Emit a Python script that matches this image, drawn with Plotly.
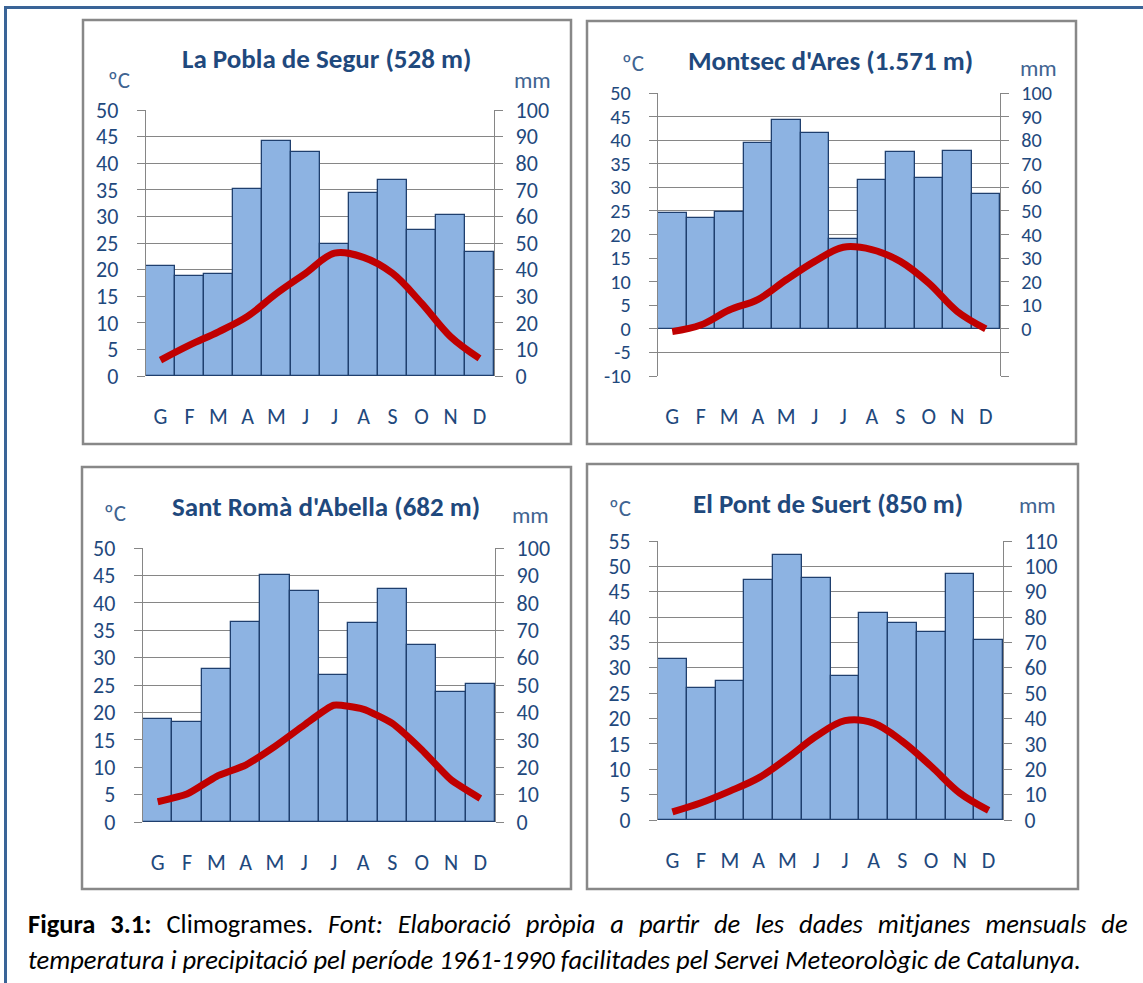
import plotly.graph_objects as go

# ---------------- data ----------------
months = ["G", "F", "M", "A", "M", "J", "J", "A", "S", "O", "N", "D"]

titles = [
    "La Pobla de Segur (528 m)",
    "Montsec d'Ares (1.571 m)",
    "Sant Romà d'Abella (682 m)",
    "El Pont de Suert (850 m)",
]

precip_pobla = [41.2, 37.7, 38.2, 70.2, 88.5, 84.1, 49.6, 68.7, 73.6, 54.8, 60.4, 46.5]
temp_pobla = [3.0, 5.8, 8.3, 11.2, 15.5, 19.3, 23.1, 22.3, 19.3, 13.7, 7.4, 3.3]

precip_montsec = [49.1, 47.2, 49.5, 78.8, 88.5, 83.0, 38.0, 63.1, 75.0, 63.9, 75.2, 57.1]
temp_montsec = [-0.6, 0.8, 4.0, 6.2, 10.4, 14.3, 17.3, 16.8, 14.3, 9.7, 3.7, 0.0]

precip_santroma = [37.5, 36.4, 55.8, 73.0, 90.3, 84.3, 53.8, 72.6, 85.0, 64.6, 47.3, 50.5]
temp_santroma = [3.7, 5.1, 8.3, 10.4, 13.8, 17.7, 21.3, 20.6, 18.0, 13.2, 7.7, 4.3]

precip_pont = [63.5, 51.9, 54.8, 94.6, 104.3, 95.3, 56.6, 81.6, 77.7, 74.1, 96.8, 71.0]
temp_pont = [1.6, 3.4, 5.7, 8.3, 12.2, 16.5, 19.6, 19.1, 15.5, 10.6, 5.3, 1.9]

temp_ranges = [(0, 50), (-10, 50), (0, 50), (0, 55)]

caption_1_words = ["<b>Figura</b>", "<b>3.1:</b>", "Climogrames.", "<i>Font:</i>", "<i>Elaboració</i>",
                   "<i>pròpia</i>", "<i>a</i>", "<i>partir</i>", "<i>de</i>", "<i>les</i>", "<i>dades</i>",
                   "<i>mitjanes</i>", "<i>mensuals</i>", "<i>de</i>"]
caption_2 = ("<i>temperatura i precipitació pel període 1961-1990 facilitades pel Servei "
             "Meteorològic de Catalunya.</i>")

# ---------------- styling / layout ----------------
W, H = 1143, 983
FONT = "Calibri, Carlito, Lato, sans-serif"
BLUE_TXT = "#1F497D"
BAR_FILL = "#8DB3E2"
BAR_LINE = "#1F3F6E"
RED = "#C00000"
GRID = "#868686"
FRAME = "#888888"

def px(x):
    return x / W

def py(y):
    return 1 - y / H

panels = [
    dict(plot=(146, 494, 110, 376), frame=(83, 20, 571, 444), title=(326, 58), degc=(119, 80), mm=(532, 80)),
    dict(plot=(658, 1000, 93, 376), frame=(587, 21, 1076, 444), title=(830, 61), degc=(633, 63), mm=(1038, 68)),
    dict(plot=(143, 495, 548, 822), frame=(82, 467, 571, 889), title=(326, 506), degc=(115, 513), mm=(530, 515)),
    dict(plot=(658, 1003, 541, 820), frame=(587, 464, 1078, 889), title=(828, 503), degc=(620, 508), mm=(1037, 505)),
]

data_sets = [
    (precip_pobla, temp_pobla),
    (precip_montsec, temp_montsec),
    (precip_santroma, temp_santroma),
    (precip_pont, temp_pont),
]

fig = go.Figure()
layout = dict(
    template="none",
    width=W, height=H, autosize=False,
    margin=dict(l=0, r=0, t=0, b=0, pad=0, autoexpand=False),
    paper_bgcolor="white", plot_bgcolor="rgba(0,0,0,0)",
    showlegend=False, bargap=0, hovermode=False,
    font=dict(family=FONT, color=BLUE_TXT),
)
shapes = []
annotations = []
xs = list(range(len(months)))

for i, (p, (prec, temp), (tmin, tmax)) in enumerate(zip(panels, data_sets, temp_ranges)):
    xn = i + 1
    yp = 2 * i + 1   # precipitation axis (base, right)
    yt = 2 * i + 2   # temperature axis (overlay, left)
    xname = "x" if xn == 1 else f"x{xn}"
    ypname = "y" if yp == 1 else f"y{yp}"
    ytname = f"y{yt}"
    x0, x1, y0, y1 = p["plot"]

    fig.add_trace(go.Bar(
        x=xs, y=prec, xaxis=xname, yaxis=ypname,
        marker=dict(color=BAR_FILL, line=dict(color=BAR_LINE, width=1.3)),
        width=1.0, hoverinfo="skip",
    ))
    fig.add_trace(go.Scatter(
        x=xs, y=temp, xaxis=xname, yaxis=ytname, mode="lines",
        line=dict(color=RED, width=7, shape="spline", smoothing=1.0 if i != 2 else 0.5),
        hoverinfo="skip",
    ))

    pmin, pmax = 2 * tmin, 2 * tmax
    pticks = list(range(pmin, pmax + 1, 10))
    ptext = [str(v) if v >= 0 else "" for v in pticks]
    tticks = list(range(tmin, tmax + 1, 5))
    ttext = [str(v) for v in tticks]

    step_px = (y1 - y0) / (len(tticks) - 1)
    tsize = min(22, round(step_px / 1.17, 1))

    xkey = "xaxis" if xn == 1 else f"xaxis{xn}"
    layout[xkey] = dict(
        domain=[px(x0), px(x1)], anchor=ypname, range=[-0.5, len(months) - 0.5],
        tickmode="array", tickvals=xs, ticktext=months, automargin=False,
        showgrid=False, zeroline=False, showline=False, ticks="",
        tickfont=dict(size=22, color=BLUE_TXT, family=FONT),
        ticklabelstandoff=25,
    )
    ypkey = "yaxis" if yp == 1 else f"yaxis{yp}"
    layout[ypkey] = dict(
        domain=[py(y1), py(y0)], anchor=xname, side="right", range=[pmin, pmax],
        tickmode="array", tickvals=pticks, ticktext=ptext, automargin=False,
        showgrid=True, gridcolor=GRID, gridwidth=1.4, zeroline=False,
        showline=True, linecolor=GRID, linewidth=1.4,
        ticks="outside", ticklen=8, tickcolor=GRID, tickwidth=1.4,
        tickfont=dict(size=tsize, color=BLUE_TXT, family=FONT),
        ticklabelstandoff=8,
    )
    layout[f"yaxis{yt}"] = dict(
        domain=[py(y1), py(y0)], anchor=xname, overlaying=ypname, side="left",
        range=[tmin, tmax], tickmode="array", tickvals=tticks, ticktext=ttext, automargin=False,
        showgrid=False, zeroline=False,
        showline=True, linecolor=GRID, linewidth=1.4,
        ticks="outside", ticklen=8, tickcolor=GRID, tickwidth=1.4,
        tickfont=dict(size=tsize, color=BLUE_TXT, family=FONT),
        ticklabelstandoff=14,
    )

    fx0, fy0, fx1, fy1 = p["frame"]
    shapes.append(dict(type="rect", xref="paper", yref="paper",
                       x0=px(fx0), x1=px(fx1), y0=py(fy1), y1=py(fy0),
                       line=dict(color=FRAME, width=2.5), fillcolor="rgba(0,0,0,0)", layer="below"))

    tx, ty = p["title"]
    annotations.append(dict(text=f"<b>{titles[i]}</b>", x=px(tx), y=py(ty), xref="paper", yref="paper",
                            xanchor="center", yanchor="middle", showarrow=False,
                            font=dict(size=27, color=BLUE_TXT, family=FONT)))
    cx, cy = p["degc"]
    annotations.append(dict(text="ºC", x=px(cx), y=py(cy), xref="paper", yref="paper",
                            xanchor="center", yanchor="middle", showarrow=False,
                            font=dict(size=23, color="#3F6491", family=FONT)))
    mx, my = p["mm"]
    annotations.append(dict(text="mm", x=px(mx), y=py(my), xref="paper", yref="paper",
                            xanchor="center", yanchor="middle", showarrow=False,
                            font=dict(size=23, color="#3F6491", family=FONT)))

# page border (blue, left and top)
shapes.append(dict(type="line", xref="paper", yref="paper", x0=px(5.5), x1=px(5.5), y0=0, y1=py(6),
                   line=dict(color="#3A6497", width=3)))
shapes.append(dict(type="line", xref="paper", yref="paper", x0=px(4), x1=1, y0=py(7.5), y1=py(7.5),
                   line=dict(color="#3A6497", width=3)))

# caption (first line justified by widened word gaps)
caption_1 = (" \u2004").join(caption_1_words)
annotations.append(dict(text=caption_1, x=px(26), y=py(924), xref="paper", yref="paper",
                        xanchor="left", yanchor="middle", showarrow=False, align="left",
                        font=dict(size=26.5, color="black", family=FONT)))
annotations.append(dict(text=caption_2, x=px(26), y=py(960), xref="paper", yref="paper",
                        xanchor="left", yanchor="middle", showarrow=False, align="left",
                        font=dict(size=26.5, color="black", family=FONT)))

layout["shapes"] = shapes
layout["annotations"] = annotations
fig.update_layout(**layout)
fig.write_html("out.html", config={"displayModeBar": False, "responsive": False},
               post_script="document.body.style.margin='0';")
